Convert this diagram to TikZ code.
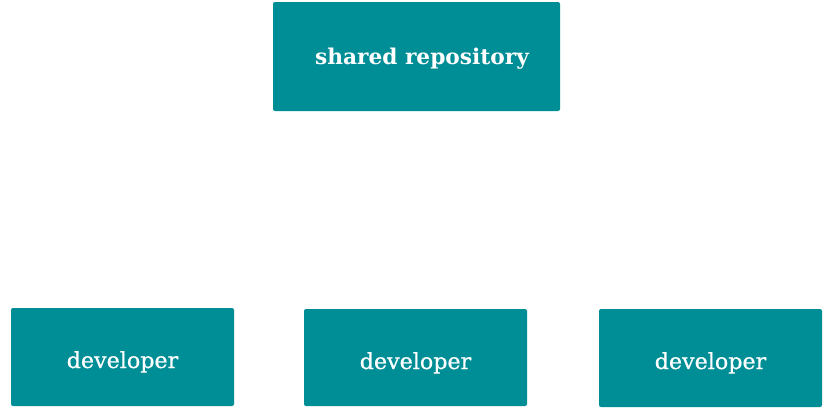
\documentclass[tikz,border=0pt]{standalone}
\usepackage{fontspec}
\setmainfont{DejaVu Serif}
\newfontfamily\devfamily[FakeBold=0.7]{DejaVu Serif}
\definecolor{teal1}{HTML}{008E96}
\begin{document}
\begin{tikzpicture}[x=1pt,y=-1pt,
  box/.style={fill=teal1,rounded corners=2pt},
  lbl/.style={text=white,inner sep=0pt,anchor=base},
  devfont/.style={font=\devfamily\fontsize{22.2}{26}\selectfont},
  repofont/.style={font=\bfseries\fontsize{21.7}{25}\selectfont}]
\useasboundingbox[fill=white] (0,0) rectangle (830,418);
\fill[box] (273,2) rectangle (560,111);
\node[lbl,repofont] (repo) at (422,64) {shared repository};
\fill[box] (11,308) rectangle (234,406);
\node[lbl,devfont] (d1) at (122.5,368) {developer};
\fill[box] (304,309) rectangle (527,406);
\node[lbl,devfont] (d2) at (415.5,369) {developer};
\fill[box] (599,309) rectangle (822,407);
\node[lbl,devfont] (d3) at (710.5,369) {developer};
\end{tikzpicture}
\end{document}
